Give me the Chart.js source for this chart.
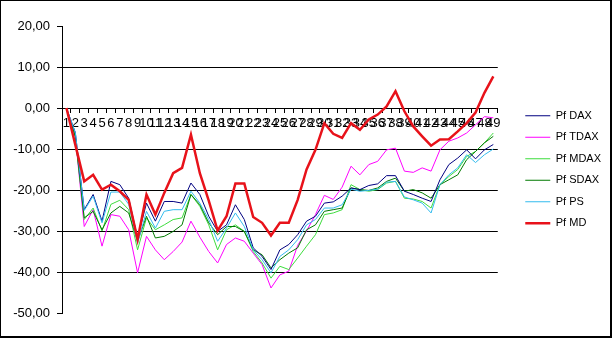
<!DOCTYPE html>
<html>
<head>
<meta charset="utf-8">
<script src="https://cdn.jsdelivr.net/npm/chart.js@4/dist/chart.umd.min.js"></script>
<style>
  html, body { margin: 0; padding: 0; background: #fff; }
  #wrap { position: relative; width: 615px; height: 339px; }
  #c { position: absolute; left: 0; top: 0; }
  #frame { position: absolute; left: 0; top: 0; width: 609px; height: 335px;
           border-left: 1px solid #000; border-top: 1px solid #000;
           border-right: 2px solid #000; border-bottom: 2px solid #000; pointer-events: none; }
</style>
</head>
<body>
<div id="wrap">
  <canvas id="c" width="615" height="339"></canvas>
  <div id="frame"></div>
</div>
<script>
const categories = ['1','2','3','4','5','6','7','8','9','10','11','12','13','14','15','16','17','18','19','20',
  '21','22','23','24','25','26','27','28','29','30','31','32','33','34','35','36','37','38','39','40',
  '41','42','43','44','45','46','47','48','49'];

const seriesNames = ['Pf DAX', 'Pf TDAX', 'Pf MDAX', 'Pf SDAX', 'Pf PS', 'Pf MD'];

const pfDAX = [0, -6, -24.8, -21.1, -27.6, -17.9, -18.7, -22, -31.7, -23.2,
  -27.6, -22.8, -22.8, -23.2, -18.3, -21.1, -26.4, -30.1, -28.5, -23.6,
  -27.2, -34.1, -36.2, -39.4, -34.6, -33.3, -30.9, -27.6, -26.4, -23.2,
  -22.9, -21.5, -19.5, -19.9, -18.9, -18.5, -16.5, -16.5, -20.3, -21.1,
  -22, -22.8, -17.5, -13.8, -12.2, -10.2, -12.4, -10.2, -8.9];

const pfTDAX = [0, -7, -28.9, -24.8, -33.7, -26, -26.4, -29.7, -40.2, -31.3,
  -34.6, -37, -35, -32.7, -27.6, -31.5, -35, -37.8, -33.3, -31.7,
  -32.5, -35.4, -38.2, -43.9, -40.7, -39.8, -33.5, -30, -26, -21.3,
  -22.3, -19.3, -14.2, -16.3, -13.8, -13, -10.2, -9.8, -15.4, -15.7,
  -14.6, -15.4, -10.2, -8.1, -7.3, -6.1, -4.1, -2.1, -2.4];

const pfMDAX = [0, -7, -27.2, -24.4, -30, -23.5, -22.5, -24.8, -34.6, -26.8,
  -29.7, -28.5, -27.2, -26.8, -21.1, -24, -28.5, -34.6, -29.7, -28.5,
  -30.1, -35, -37.8, -41.5, -38.6, -39.4, -36.6, -33.7, -30.9, -26,
  -25.6, -24.8, -18.7, -19.9, -20.3, -19.9, -18.3, -17.9, -22, -22.2,
  -22.8, -24.4, -18.7, -16.7, -15, -11.8, -10.6, -8.5, -6.1];

const pfSDAX = [0, -7, -26.8, -25.2, -29.7, -25.6, -24, -25.6, -32.5, -26.4,
  -31.7, -31.3, -30.1, -28.5, -21.1, -23.6, -28, -30.9, -28.9, -28.9,
  -30.1, -34.6, -35.8, -39, -37, -35.4, -34.1, -29.7, -28.5, -25.2,
  -24.8, -24.4, -19.5, -19.9, -20.1, -19.5, -17.9, -17.1, -20.3, -19.9,
  -20.7, -22, -18.7, -17.5, -16.3, -12.6, -10.6, -8.5, -6.9];

const pfPS = [0, -6, -25, -21.5, -28, -20.5, -20.5, -23.5, -33, -25.2,
  -29.3, -25.2, -24.8, -24.8, -20.3, -23.2, -27.2, -32.5, -29.3, -25.6,
  -28.9, -34.6, -37, -40.2, -36.2, -34.6, -32.1, -28.5, -27.2, -24.4,
  -24.4, -23.6, -19.8, -20.3, -20.1, -19.8, -18.1, -17.9, -21.7, -22.4,
  -23.2, -25.6, -18.7, -16.3, -14.6, -11.4, -13.3, -11.4, -10];

const pfMD = [0, -9, -17.9, -16.3, -19.9, -18.7, -20.3, -22.4, -32.1, -21.1,
  -26, -20.7, -15.9, -14.6, -6.5, -15.9, -22.6, -29.9, -26.4, -18.4,
  -18.4, -26.6, -28, -31.1, -28, -28, -22.4, -15, -10.2, -3.7,
  -6.3, -7.3, -3.7, -5.3, -2.8, -1.6, 0.4, 4.1, -0.8, -4.5,
  -6.9, -9.2, -7.7, -7.6, -5.7, -3.7, -1.1, 3.7, 7.7];

const yMin = -50, yMax = 20, yStep = 10;

const seriesValues = [pfDAX, pfTDAX, pfMDAX, pfSDAX, pfPS, pfMD];
const colors = ['#000080', '#FF00FF', '#3DDC3D', '#007A00', '#33BBEE', '#E8121A'];
const widths = [1, 1, 1, 1, 1, 2.5];
const orders = [2, 5, 4, 3, 1, 0];

const datasets = seriesNames.map((name, i) => ({
  label: name,
  data: seriesValues[i],
  borderColor: colors[i],
  backgroundColor: colors[i],
  borderWidth: widths[i],
  pointRadius: 0,
  pointHoverRadius: 0,
  tension: 0,
  fill: false,
  order: orders[i]
}));

const FONT = "'Liberation Sans', Arial, sans-serif";

const shiftLegend = {
  id: 'shiftLegend',
  afterLayout(chart) {
    const lg = chart.legend;
    if (lg) { lg.left += 17; lg.right += 17; }
  }
};

new Chart(document.getElementById('c'), {
  type: 'line',
  data: { labels: categories, datasets },
  plugins: [shiftLegend],
  options: {
    responsive: false,
    animation: false,
    layout: { padding: { left: 0, top: 26, bottom: 26, right: 21 } },
    plugins: {
      tooltip: { enabled: false },
      legend: {
        position: 'right',
        labels: {
          font: { family: FONT, size: 11 },
          color: '#000',
          usePointStyle: true,
          pointStyle: 'line',
          pointStyleWidth: 25,
          padding: 10.5,
          sort: (a, b) => a.datasetIndex - b.datasetIndex
        }
      }
    },
    scales: {
      x: {
        type: 'category',
        position: { y: 0 },
        offset: true,
        afterFit(scale) { scale.height = 0; },
        grid: {
          display: true,
          drawOnChartArea: false,
          drawTicks: true,
          tickLength: 4,
          offset: true,
          color: '#000',
          tickColor: '#000'
        },
        border: { display: true, color: '#000', width: 1 },
        ticks: {
          autoSkip: false,
          maxRotation: 0,
          minRotation: 0,
          padding: 4,
          color: '#000',
          font: { family: FONT, size: 13 }
        }
      },
      y: {
        min: yMin,
        max: yMax,
        afterFit(scale) { scale.width = 62; },
        grid: {
          drawTicks: true,
          tickLength: 5,
          tickColor: '#000',
          color: (ctx) => (ctx.tick && (ctx.tick.value === yMax || ctx.tick.value === yMin)) ? 'rgba(0,0,0,0)' : '#000',
          lineWidth: 1
        },
        border: { display: true, color: '#000', width: 1 },
        ticks: {
          stepSize: yStep,
          padding: 7,
          color: '#000',
          font: { family: FONT, size: 13 },
          callback: (v) => v.toFixed(2).replace('.', ',')
        }
      }
    }
  }
});
</script>
</body>
</html>
